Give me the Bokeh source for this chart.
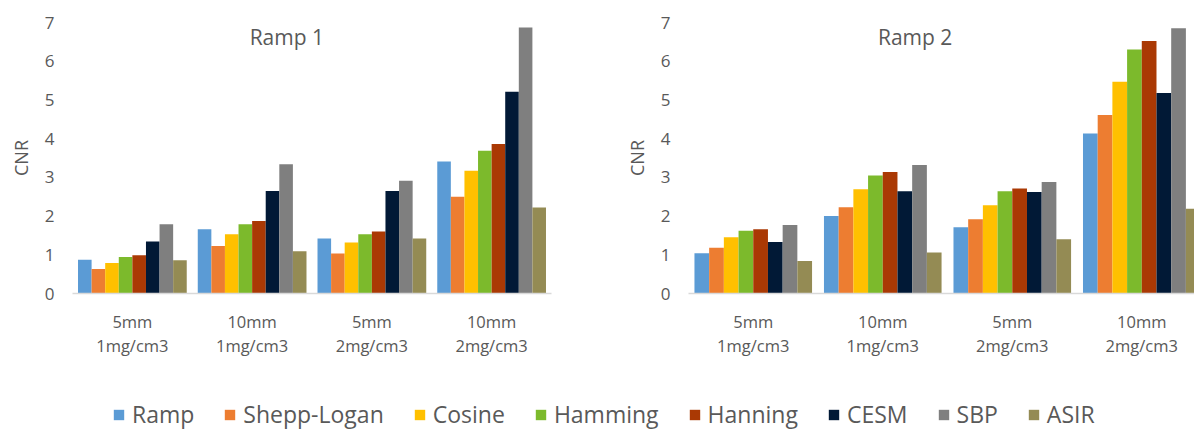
import numpy as np
from bokeh.plotting import figure
from bokeh.layouts import column, row
from bokeh.models import (ColumnDataSource, Range1d, FixedTicker, Label,
                          Legend, LegendItem)
from bokeh.transform import dodge
from bokeh.embed import file_html
from bokeh.resources import INLINE

# ---------------- data ----------------
categories = ["5mm\n1mg/cm3", "10mm\n1mg/cm3", "5mm\n2mg/cm3", "10mm\n2mg/cm3"]
series = ["Ramp", "Shepp-Logan", "Cosine", "Hamming", "Hanning", "CESM", "SBP", "ASIR"]
colors = ["#5B9BD5", "#ED7D31", "#FFC000", "#7CBA2C", "#AA3904", "#011936", "#7F7F7F", "#948B54"]

# Ramp 1 chart
r1_ramp    = [0.87, 1.66, 1.42, 3.41]
r1_shepp   = [0.63, 1.23, 1.03, 2.50]
r1_cosine  = [0.79, 1.53, 1.32, 3.17]
r1_hamming = [0.94, 1.79, 1.53, 3.69]
r1_hanning = [0.99, 1.87, 1.60, 3.86]
r1_cesm    = [1.34, 2.65, 2.65, 5.21]
r1_sbp     = [1.79, 3.34, 2.91, 6.87]
r1_asir    = [0.86, 1.09, 1.42, 2.22]

# Ramp 2 chart
r2_ramp    = [1.04, 2.00, 1.71, 4.13]
r2_shepp   = [1.18, 2.23, 1.92, 4.61]
r2_cosine  = [1.45, 2.69, 2.28, 5.47]
r2_hamming = [1.62, 3.05, 2.64, 6.30]
r2_hanning = [1.66, 3.14, 2.71, 6.52]
r2_cesm    = [1.33, 2.64, 2.62, 5.18]
r2_sbp     = [1.77, 3.32, 2.88, 6.85]
r2_asir    = [0.84, 1.06, 1.40, 2.19]

y_ticks = [0, 1, 2, 3, 4, 5, 6, 7]

ramp1 = [r1_ramp, r1_shepp, r1_cosine, r1_hamming, r1_hanning, r1_cesm, r1_sbp, r1_asir]
ramp2 = [r2_ramp, r2_shepp, r2_cosine, r2_hamming, r2_hanning, r2_cesm, r2_sbp, r2_asir]

FONT = "Open Sans"
TXT = "#595959"
BAR_W = 0.1135


def make_chart(title, values, width, height, x_end, border_left, border_right,
               border_top, border_bottom, title_x, title_y):
    x = np.arange(len(categories)) + 0.5
    data = {"x": x}
    for name, vals in zip(series, values):
        data[name] = vals
    src = ColumnDataSource(data)

    p = figure(width=width, height=height, x_range=Range1d(0, x_end),
               y_range=Range1d(0, 7), output_backend="svg", toolbar_location=None,
               min_border_left=border_left, min_border_right=border_right,
               min_border_top=border_top, min_border_bottom=border_bottom)
    p.outline_line_color = None
    p.xgrid.visible = False
    p.ygrid.visible = False

    n = len(series)
    for k, name in enumerate(series):
        p.vbar(x=dodge("x", (k - (n - 1) / 2) * BAR_W), top=name, width=BAR_W,
               source=src, fill_color=colors[k], line_color=None)

    ax = p.yaxis[0]
    ax.ticker = FixedTicker(ticks=y_ticks)
    ax.axis_line_color = None
    ax.major_tick_line_color = None
    ax.minor_tick_line_color = None
    ax.major_tick_out = 0
    ax.major_label_standoff = 18
    ax.major_label_text_font = FONT
    ax.major_label_text_font_size = "17px"
    ax.major_label_text_color = TXT
    ax.axis_label = "CNR"
    ax.axis_label_text_font = FONT
    ax.axis_label_text_font_size = "18px"
    ax.axis_label_text_font_style = "normal"
    ax.axis_label_text_color = TXT
    ax.axis_label_standoff = 9

    xa = p.xaxis[0]
    xa.ticker = FixedTicker(ticks=list(x))
    xa.major_label_overrides = {float(v): c for v, c in zip(x, categories)}
    xa.axis_line_color = "#D9D9D9"
    xa.axis_line_width = 1.5
    xa.major_tick_line_color = None
    xa.minor_tick_line_color = None
    xa.major_tick_out = 0
    xa.major_label_standoff = 16
    xa.major_label_text_font = FONT
    xa.major_label_text_font_size = "16.5px"
    xa.major_label_text_color = TXT
    xa.major_label_text_line_height = 1.05

    p.add_layout(Label(x=title_x, y=title_y, text=title, text_align="center",
                       text_baseline="middle", text_font=FONT,
                       text_font_size="21px", text_color=TXT))
    return p


p1 = make_chart("Ramp 1", ramp1, 600, 370, 4.0, 72, 49, 22, 74, 1.79, 6.62)
p2 = make_chart("Ramp 2", ramp2, 594, 370, 3.907, 88, 0, 22, 77, 1.75, 6.62)

# ---------------- legend strip ----------------
lf = figure(width=1194, height=60, x_range=Range1d(0, 1), y_range=Range1d(0, 1),
            output_backend="svg", toolbar_location=None, min_border=0,
            x_axis_type=None, y_axis_type=None)
lf.outline_line_color = None
items = []
for name, c in zip(series, colors):
    # zero-height bar: only its legend swatch is visible
    r = lf.vbar(x=[0.5], top=[0], bottom=[0], width=0.1, fill_color=c, line_color=None)
    items.append(LegendItem(label=name, renderers=[r]))
legend = Legend(items=items, orientation="horizontal", location=(112, 0),
                glyph_width=13, glyph_height=13, label_standoff=7, spacing=29,
                padding=0, margin=0, border_line_color=None,
                background_fill_alpha=0, label_text_font=FONT,
                label_text_font_size="23px", label_text_color=TXT)
lf.add_layout(legend)

layout = column(row(p1, p2, spacing=0), lf, spacing=0)

open("out.html", "w").write(file_html(layout, INLINE))
